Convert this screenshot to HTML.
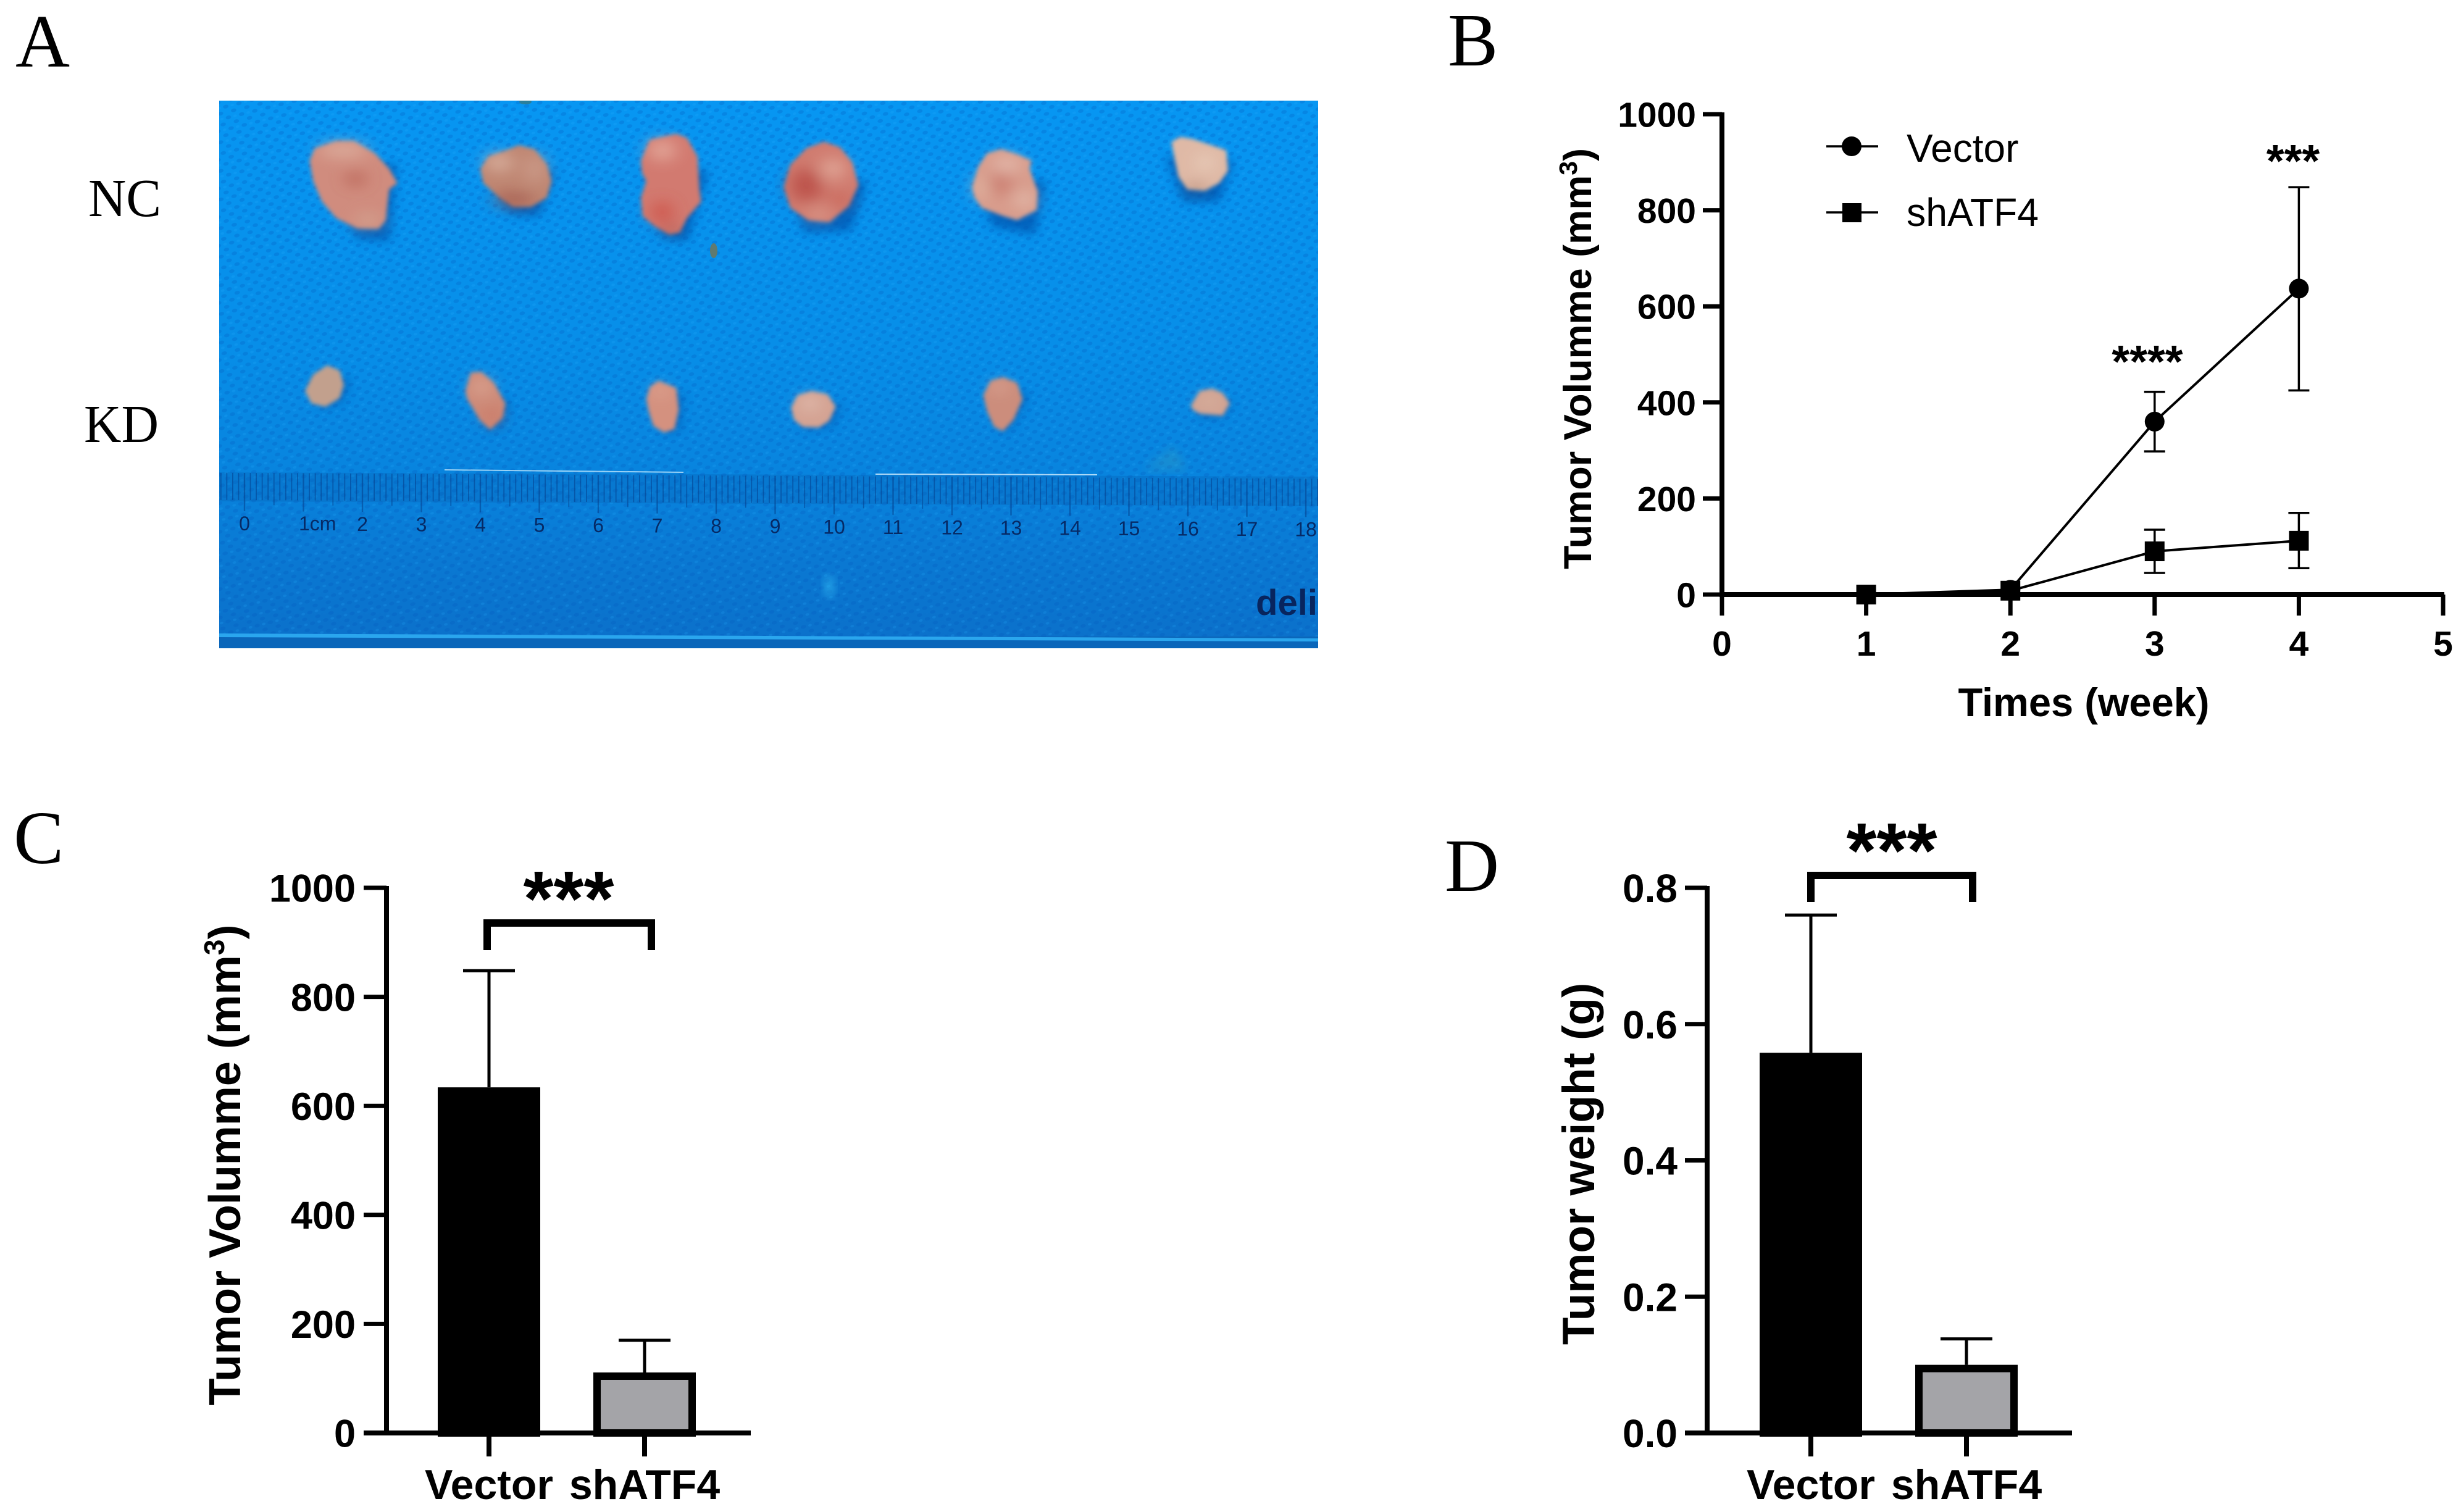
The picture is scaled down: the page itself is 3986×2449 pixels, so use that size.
<!DOCTYPE html>
<html lang="en">
<head>
<meta charset="utf-8">
<title>Tumor growth figure</title>
<style>
html,body{margin:0;padding:0;background:#fff;}
svg{display:block;}
text{font-family:"Liberation Sans",sans-serif;}
.letter{font-family:"Liberation Serif",serif;font-size:122px;fill:#000;}
.row{font-family:"Liberation Serif",serif;font-size:87px;fill:#000;}
.ttl{font-weight:bold;fill:#000;}
.tick{font-weight:bold;fill:#000;}
.rl{font-size:32px;fill:#062a66;}
</style>
</head>
<body>
<svg xmlns="http://www.w3.org/2000/svg" width="3986" height="2449" viewBox="0 0 3986 2449">
<defs>
<linearGradient id="bg" x1="0" y1="0" x2="0" y2="1">
<stop offset="0" stop-color="#0796f2"/><stop offset=".45" stop-color="#078ee8"/><stop offset=".68" stop-color="#0884de"/><stop offset=".85" stop-color="#0a78d2"/><stop offset="1" stop-color="#0b70ca"/>
</linearGradient>
<pattern id="dots" width="22" height="18" patternUnits="userSpaceOnUse" patternTransform="rotate(-14)">
<ellipse cx="5" cy="4" rx="4.5" ry="3" fill="#0459bb" opacity=".26"/>
<ellipse cx="16" cy="13" rx="4.5" ry="3" fill="#0459bb" opacity=".26"/>
<ellipse cx="16" cy="4" rx="3" ry="2" fill="#29b2ff" opacity=".18"/>
</pattern>
<filter id="b1" x="-20%" y="-20%" width="140%" height="140%"><feGaussianBlur stdDeviation="6 10"/></filter>
<filter id="b2" x="-50%" y="-50%" width="200%" height="200%"><feGaussianBlur stdDeviation="14 22"/></filter>
<filter id="b3" x="-80%" y="-80%" width="260%" height="260%"><feGaussianBlur stdDeviation="24 36"/></filter>
<clipPath id="photo-clip"><rect x="355" y="163" width="1780" height="887"/></clipPath>
</defs>

<text class="letter" x="25" y="108">A</text>
<text class="letter" x="2345" y="106">B</text>
<text class="letter" x="22" y="1398">C</text>
<text class="letter" x="2340" y="1443">D</text>
<text class="row" x="143" y="350" textLength="118" lengthAdjust="spacingAndGlyphs">NC</text>
<text class="row" x="136" y="716" textLength="121" lengthAdjust="spacingAndGlyphs">KD</text>

<g id="photo" clip-path="url(#photo-clip)">
<rect x="355" y="163" width="1780" height="887" fill="url(#bg)"/>
<rect x="355" y="163" width="1780" height="887" fill="url(#dots)"/>
<rect x="355" y="1031" width="1780" height="19" fill="#0a66ba"/>
<polygon points="355,1026 2135,1034 2135,1039 355,1032" fill="#2aa6ee"/>
<ellipse cx="1343" cy="950" rx="10" ry="16" fill="#35c0f5" opacity=".55" filter="url(#b1)"/>
<ellipse cx="851" cy="165" rx="10" ry="4" fill="#2a7f9c"/>
<ellipse cx="1156" cy="406" rx="6" ry="12" fill="#5f7a70"/>
<polygon points="1850,761 1900,725 1925,761" fill="#3aa0b8" opacity=".35" filter="url(#b1)"/>

<g id="ruler">
<polygon points="355,765 2135,772 2135,820 355,812" fill="#07509e" opacity=".2"/>
<polygon points="720,760 1107,764 1107,766 720,762" fill="#d8f4ff" opacity=".7"/>
<polygon points="1418,767 1777,768 1777,770 1418,769" fill="#e4f6ff" opacity=".75"/>
</g>
<text x="2034" y="996" font-size="58" font-weight="bold" fill="#08255e" textLength="100" lengthAdjust="spacingAndGlyphs">deli</text>

<g transform="translate(355 160) scale(.574 .3333)">
<g fill="#0452ad" opacity=".75" filter="url(#b2)">
<polygon points="275,320 500,320 480,690 390,680"/><polygon points="760,350 950,350 900,570 820,560"/><polygon points="1210,350 1380,350 1320,690 1250,670"/>
</g>
<g filter="url(#b1)">
<polygon fill="#d08c7e" points="255,300 270,240 330,205 380,205 440,265 480,340 503,410 480,440 470,590 450,632 390,630 330,580 290,500 265,400"/>
<polygon fill="#bf8672" points="737,340 760,280 810,250 845,225 890,245 925,320 938,400 925,480 880,525 830,525 790,480 745,410"/>
<polygon fill="#d27a70" points="1190,300 1215,200 1290,170 1320,190 1350,280 1355,440 1360,500 1320,580 1300,650 1270,660 1230,620 1195,570 1190,480 1205,400 1193,360"/>
</g>
<g filter="url(#b3)" opacity=".8">
<ellipse cx="385" cy="390" rx="30" ry="30" fill="#b4594c"/><ellipse cx="350" cy="250" rx="70" ry="30" fill="#e0baa8"/><ellipse cx="420" cy="590" rx="40" ry="30" fill="#d3a894"/>
<ellipse cx="830" cy="490" rx="60" ry="28" fill="#9c5146"/><ellipse cx="790" cy="310" rx="40" ry="40" fill="#dfbcab"/><ellipse cx="890" cy="340" rx="26" ry="70" fill="#cfa090"/>
<ellipse cx="1250" cy="550" rx="30" ry="50" fill="#cf4d42"/><ellipse cx="1250" cy="250" rx="40" ry="50" fill="#e6b0a2"/><ellipse cx="1275" cy="640" rx="20" ry="14" fill="#6f3230"/>
</g>
</g>

<g transform="translate(1240 160) scale(.574 .3333)">
<g fill="#0452ad" opacity=".75" filter="url(#b2)">
<polygon points="60,400 285,400 240,640 110,650"/><polygon points="600,400 790,400 760,660 640,620"/><polygon points="1130,280 1320,300 1280,500 1180,500"/>
</g>
<g filter="url(#b1)">
<polygon fill="#d07c70" points="52,430 70,320 115,240 165,208 210,235 245,310 262,420 235,520 180,600 120,590 70,530"/>
<polygon fill="#d89c8c" points="583,430 600,330 625,265 665,245 710,270 750,300 745,340 768,450 765,540 710,590 670,570 610,530 590,480"/>
<polygon fill="#dfb9a6" points="1145,210 1170,185 1205,195 1240,215 1300,250 1305,350 1280,410 1240,447 1190,440 1165,380 1155,300"/>
</g>
<g filter="url(#b3)" opacity=".8">
<ellipse cx="115" cy="420" rx="45" ry="80" fill="#b84a42"/><ellipse cx="190" cy="340" rx="36" ry="50" fill="#e4b0a0"/><ellipse cx="210" cy="490" rx="24" ry="30" fill="#c65a4d"/><ellipse cx="150" cy="565" rx="34" ry="20" fill="#e3b2a0"/>
<ellipse cx="660" cy="410" rx="38" ry="60" fill="#c9786c"/><ellipse cx="680" cy="320" rx="40" ry="40" fill="#e6c0b2"/><ellipse cx="610" cy="430" rx="16" ry="60" fill="#e6c5b0"/><ellipse cx="730" cy="490" rx="26" ry="40" fill="#e6c5b6"/>
<ellipse cx="1215" cy="432" rx="25" ry="14" fill="#87513e"/><ellipse cx="1240" cy="310" rx="22" ry="40" fill="#ecd5c2"/>
</g>
</g>

<g transform="translate(355 570) scale(.574 .3333)">
<g fill="#0452ad" opacity=".6" filter="url(#b2)">
<polygon points="260,130 370,130 350,240 290,280"/><polygon points="720,150 820,250 800,360 760,390"/><polygon points="1225,200 1310,200 1300,380 1260,400"/>
</g>
<g filter="url(#b1)">
<polygon fill="#c2a08d" points="242,190 265,110 305,65 340,90 352,160 340,225 300,267 260,250"/>
<polygon fill="#cd8a78" points="695,190 710,100 740,97 775,150 808,250 800,320 765,378 735,330 700,230"/>
<polygon fill="#d4917f" points="1205,230 1215,170 1240,140 1290,175 1297,280 1285,375 1255,392 1225,360 1212,290"/>
</g>
<g filter="url(#b3)" opacity=".8"><ellipse cx="740" cy="170" rx="24" ry="40" fill="#e0b09e"/><ellipse cx="770" cy="310" rx="20" ry="36" fill="#c96e5c"/><ellipse cx="1245" cy="190" rx="16" ry="20" fill="#e8c0ae"/></g>
</g>

<g transform="translate(1240 570) scale(.574 .3333)">
<g fill="#0452ad" opacity=".6" filter="url(#b2)">
<polygon points="90,250 215,250 190,360 110,380"/><polygon points="640,200 745,200 700,350 670,400"/><polygon points="1220,240 1320,240 1290,320 1225,320"/>
</g>
<g filter="url(#b1)">
<polygon fill="#d4a393" points="72,270 90,210 130,190 175,205 198,265 180,335 150,368 105,365 80,330"/>
<polygon fill="#cc8d7b" points="614,210 635,140 670,123 710,150 725,230 700,330 670,385 645,365 625,290"/>
<polygon fill="#d0a392" points="1200,260 1225,190 1260,178 1290,200 1310,250 1290,310 1225,300 1205,280"/>
</g>
<g filter="url(#b3)" opacity=".8"><ellipse cx="125" cy="250" rx="24" ry="30" fill="#e8ccc0"/><ellipse cx="660" cy="170" rx="18" ry="20" fill="#e8c0b2"/><ellipse cx="1250" cy="240" rx="20" ry="26" fill="#e0bdac"/></g>
</g>
</g>

<g id="chart-b">
<text class="ttl" font-size="63" transform="translate(2577 581) rotate(-90)" text-anchor="middle">Tumor Volumme (mm<tspan font-size="41" dy="-23">3</tspan><tspan dy="23">)</tspan></text>
<text class="ttl" font-size="65" x="3375" y="1160" text-anchor="middle">Times (week)</text>
<g>
<line x1="2958" y1="237" x2="3042" y2="237" stroke="#000" stroke-width="3.5"/>
<circle cx="2999" cy="237" r="16" fill="#000"/>
<text x="3088" y="262" font-size="64" fill="#000">Vector</text>
</g>
<g>
<line x1="2958" y1="344" x2="3042" y2="344" stroke="#000" stroke-width="3.5"/>
<rect x="2984" y="329" width="31" height="31" fill="#000"/>
<text x="3088" y="366" font-size="64" fill="#000" textLength="214" lengthAdjust="spacingAndGlyphs">shATF4</text>
</g>
<text class="tick" font-size="74" x="3714" y="286" text-anchor="middle">***</text>
<text class="tick" font-size="74" x="3478" y="611" text-anchor="middle">****</text>
</g>

<g id="chart-c">
<text class="ttl" font-size="72" transform="translate(389 1887) rotate(-90)" text-anchor="middle">Tumor Volumme (mm<tspan font-size="46" dy="-26">3</tspan><tspan dy="26">)</tspan></text>
<path d="M789 1539V1495H1055V1539" fill="none" stroke="#000" stroke-width="12"/>
<text class="tick" font-size="126" x="921" y="1499" text-anchor="middle">***</text>
</g>

<g id="chart-d">
<text class="ttl" font-size="73" transform="translate(2582 1885) rotate(-90)" text-anchor="middle">Tumor weight (g)</text>
<path d="M2933 1461V1418H3195V1461" fill="none" stroke="#000" stroke-width="12"/>
<text class="tick" font-size="126" x="3064" y="1421" text-anchor="middle">***</text>
</g>
</svg>

<script>
// Chart B data
const weekTicks = [0, 1, 2, 3, 4, 5];
const volumeTicks = [0, 200, 400, 600, 800, 1000];
const weeks = [1, 2, 3, 4];
const vectorMeans = [0, 10, 360, 637];
const vectorUpper = [0, 14, 422, 848];
const vectorLower = [0, 6, 298, 425];
const shatf4Means = [0, 8, 90, 112];
const shatf4Upper = [0, 12, 135, 170];
const shatf4Lower = [0, 4, 45, 55];
// Chart C data
const barCategories = ['Vector', 'shATF4'];
const volumeBarMeans = [634, 111];
const volumeBarUpper = [848, 170];
// Chart D data
const weightTicks = [0, 0.2, 0.4, 0.6, 0.8];
const weightBarMeans = [0.558, 0.1];
const weightBarUpper = [0.76, 0.138];
// Ruler labels
const rulerCm = [0, 2, 3, 4, 5, 6, 7, 8, 9, 10, 11, 12, 13, 14, 15, 16, 17, 18];

const NS = 'http://www.w3.org/2000/svg';
function make(tag, parent) {
  const e = document.createElementNS(NS, tag);
  parent.appendChild(e);
  return e;
}
function line(parent, x1, y1, x2, y2, w) {
  const e = make('line', parent);
  e.setAttribute('x1', x1);
  e.setAttribute('y1', y1);
  e.setAttribute('x2', x2);
  e.setAttribute('y2', y2);
  e.setAttribute('stroke', '#000');
  e.setAttribute('stroke-width', w);
  return e;
}
function label(parent, x, y, size, anchor, str) {
  const e = make('text', parent);
  e.setAttribute('class', 'tick');
  e.setAttribute('x', x);
  e.setAttribute('y', y);
  e.setAttribute('font-size', size);
  e.setAttribute('text-anchor', anchor);
  e.textContent = str;
  return e;
}

function yAxis(g, ticks, yScale, axisX, tickLeft, bottom, size, decimals, textRight) {
  const ax = line(g, axisX, yScale(ticks[ticks.length - 1]) - 3, axisX, bottom, 8);
  
  
  ticks.forEach(function (v) {
    const t = line(g, tickLeft, yScale(v), axisX, yScale(v), 7);
    
    
    const l = label(g, textRight, yScale(v) + size * 0.36, size, 'end', v.toFixed(decimals));
    
    
  });
}

function drawSeries(g, xs, means, upper, lower, xScale, yScale, marker, name) {
  const path = make('polyline', g);
  path.setAttribute('points', xs.map(function (x, i) { return xScale(x) + ',' + yScale(means[i]); }).join(' '));
  path.setAttribute('fill', 'none');
  path.setAttribute('stroke', '#000');
  path.setAttribute('stroke-width', 4);
  
  
  xs.forEach(function (x, i) {
    const cx = xScale(x);
    if (upper[i] - lower[i] > 20) {
      const stem = line(g, cx, yScale(upper[i]), cx, yScale(lower[i]), 3.5);
      
      
      const capTop = line(g, cx - 17, yScale(upper[i]), cx + 17, yScale(upper[i]), 3.5);
      
      
      const capLow = line(g, cx - 17, yScale(lower[i]), cx + 17, yScale(lower[i]), 3.5);
      
      
    }
    let m;
    if (marker === 'circle') {
      m = make('circle', g);
      m.setAttribute('cx', cx);
      m.setAttribute('cy', yScale(means[i]));
      m.setAttribute('r', 16);
    } else {
      m = make('rect', g);
      m.setAttribute('x', cx - 16);
      m.setAttribute('y', yScale(means[i]) - 16);
      m.setAttribute('width', 32);
      m.setAttribute('height', 32);
    }
    m.setAttribute('fill', '#000');
    
    
  });
}

function drawChartB() {
  const g = document.getElementById('chart-b');
  const xScale = function (v) { return 2789 + v * 233.6; };
  const yScale = function (v) { return 963 - v * 0.778; };
  yAxis(g, volumeTicks, yScale, 2789, 2758, 965, 57, 0, 2747);
  const xa = line(g, 2785, 963, 3959, 963, 8);
  
  
  weekTicks.forEach(function (v) {
    const t = line(g, xScale(v), 963, xScale(v), 997, 7);
    
    
    const l = label(g, xScale(v), 1062, 57, 'middle', String(v));
    
    
  });
  drawSeries(g, weeks, vectorMeans, vectorUpper, vectorLower, xScale, yScale, 'circle', 'vector');
  drawSeries(g, weeks, shatf4Means, shatf4Upper, shatf4Lower, xScale, yScale, 'square', 'shatf4');
}

function drawBarChart(id, ticks, decimals, yMax, means, upper, axisX, tickLeft, axisRight, firstCenter, labelSize, textRight, capHalf) {
  const g = document.getElementById(id);
  const yScale = function (v) { return 2321 - v / yMax * 883; };
  const centers = barCategories.map(function (c, i) { return firstCenter + i * 252; });
  barCategories.forEach(function (c, i) {
    const cx = centers[i];
    const stem = line(g, cx, yScale(upper[i]), cx, yScale(means[i]), 5);
    
    
    const cap = line(g, cx - capHalf, yScale(upper[i]), cx + capHalf, yScale(upper[i]), 5);
    
    
    const bar = make('rect', g);
    bar.setAttribute('x', cx - 77);
    bar.setAttribute('y', yScale(means[i]) + 6);
    bar.setAttribute('width', 154);
    bar.setAttribute('height', Math.max(0, 2321 - yScale(means[i]) - 6));
    bar.setAttribute('fill', i === 0 ? '#000' : '#a4a4a8');
    bar.setAttribute('stroke', '#000');
    bar.setAttribute('stroke-width', 12);
    
    
    const t = line(g, cx, 2321, cx, 2359, 8);
    
    
    const l = label(g, cx, 2428, 68, 'middle', c);
    
    
  });
  yAxis(g, ticks, yScale, axisX, tickLeft, 2323, labelSize, decimals, textRight);
  const xa = line(g, tickLeft, 2321, axisRight, 2321, 8);
  
  
}

function drawRuler() {
  const g = document.getElementById('ruler');
  const xCm = function (cm) { return 396 + cm * 95.5; };
  const tilt = function (x) { return (x - 396) * 0.0055; };
  for (let mm = -4; mm <= 183; mm++) {
    const x = xCm(mm / 10);
    const len = mm % 10 === 0 ? 62 : (mm % 5 === 0 ? 52 : 44);
    const t = line(g, x, 766 + tilt(x), x, 766 + tilt(x) + len, mm % 10 === 0 ? 2.4 : 1.8);
    t.setAttribute('stroke', '#053a86');
    t.setAttribute('opacity', '0.5');
    
    
  }
  rulerCm.forEach(function (cm) {
    const x = xCm(cm);
    const l = make('text', g);
    l.setAttribute('class', 'rl');
    l.setAttribute('x', x);
    l.setAttribute('y', 859 + tilt(x));
    l.setAttribute('text-anchor', 'middle');
    l.textContent = String(cm);
    
    
  });
  const one = make('text', g);
  one.setAttribute('class', 'rl');
  one.setAttribute('x', 484);
  one.setAttribute('y', 859);
  one.textContent = '1cm';
  
  
}

drawRuler();
drawChartB();
drawBarChart('chart-c', volumeTicks, 0, 1000, volumeBarMeans, volumeBarUpper, 626, 589, 1216, 792, 63, 576, 42);
drawBarChart('chart-d', weightTicks, 1, 0.8, weightBarMeans, weightBarUpper, 2765, 2729, 3356, 2933, 64, 2717, 42);
</script>
</body>
</html>
